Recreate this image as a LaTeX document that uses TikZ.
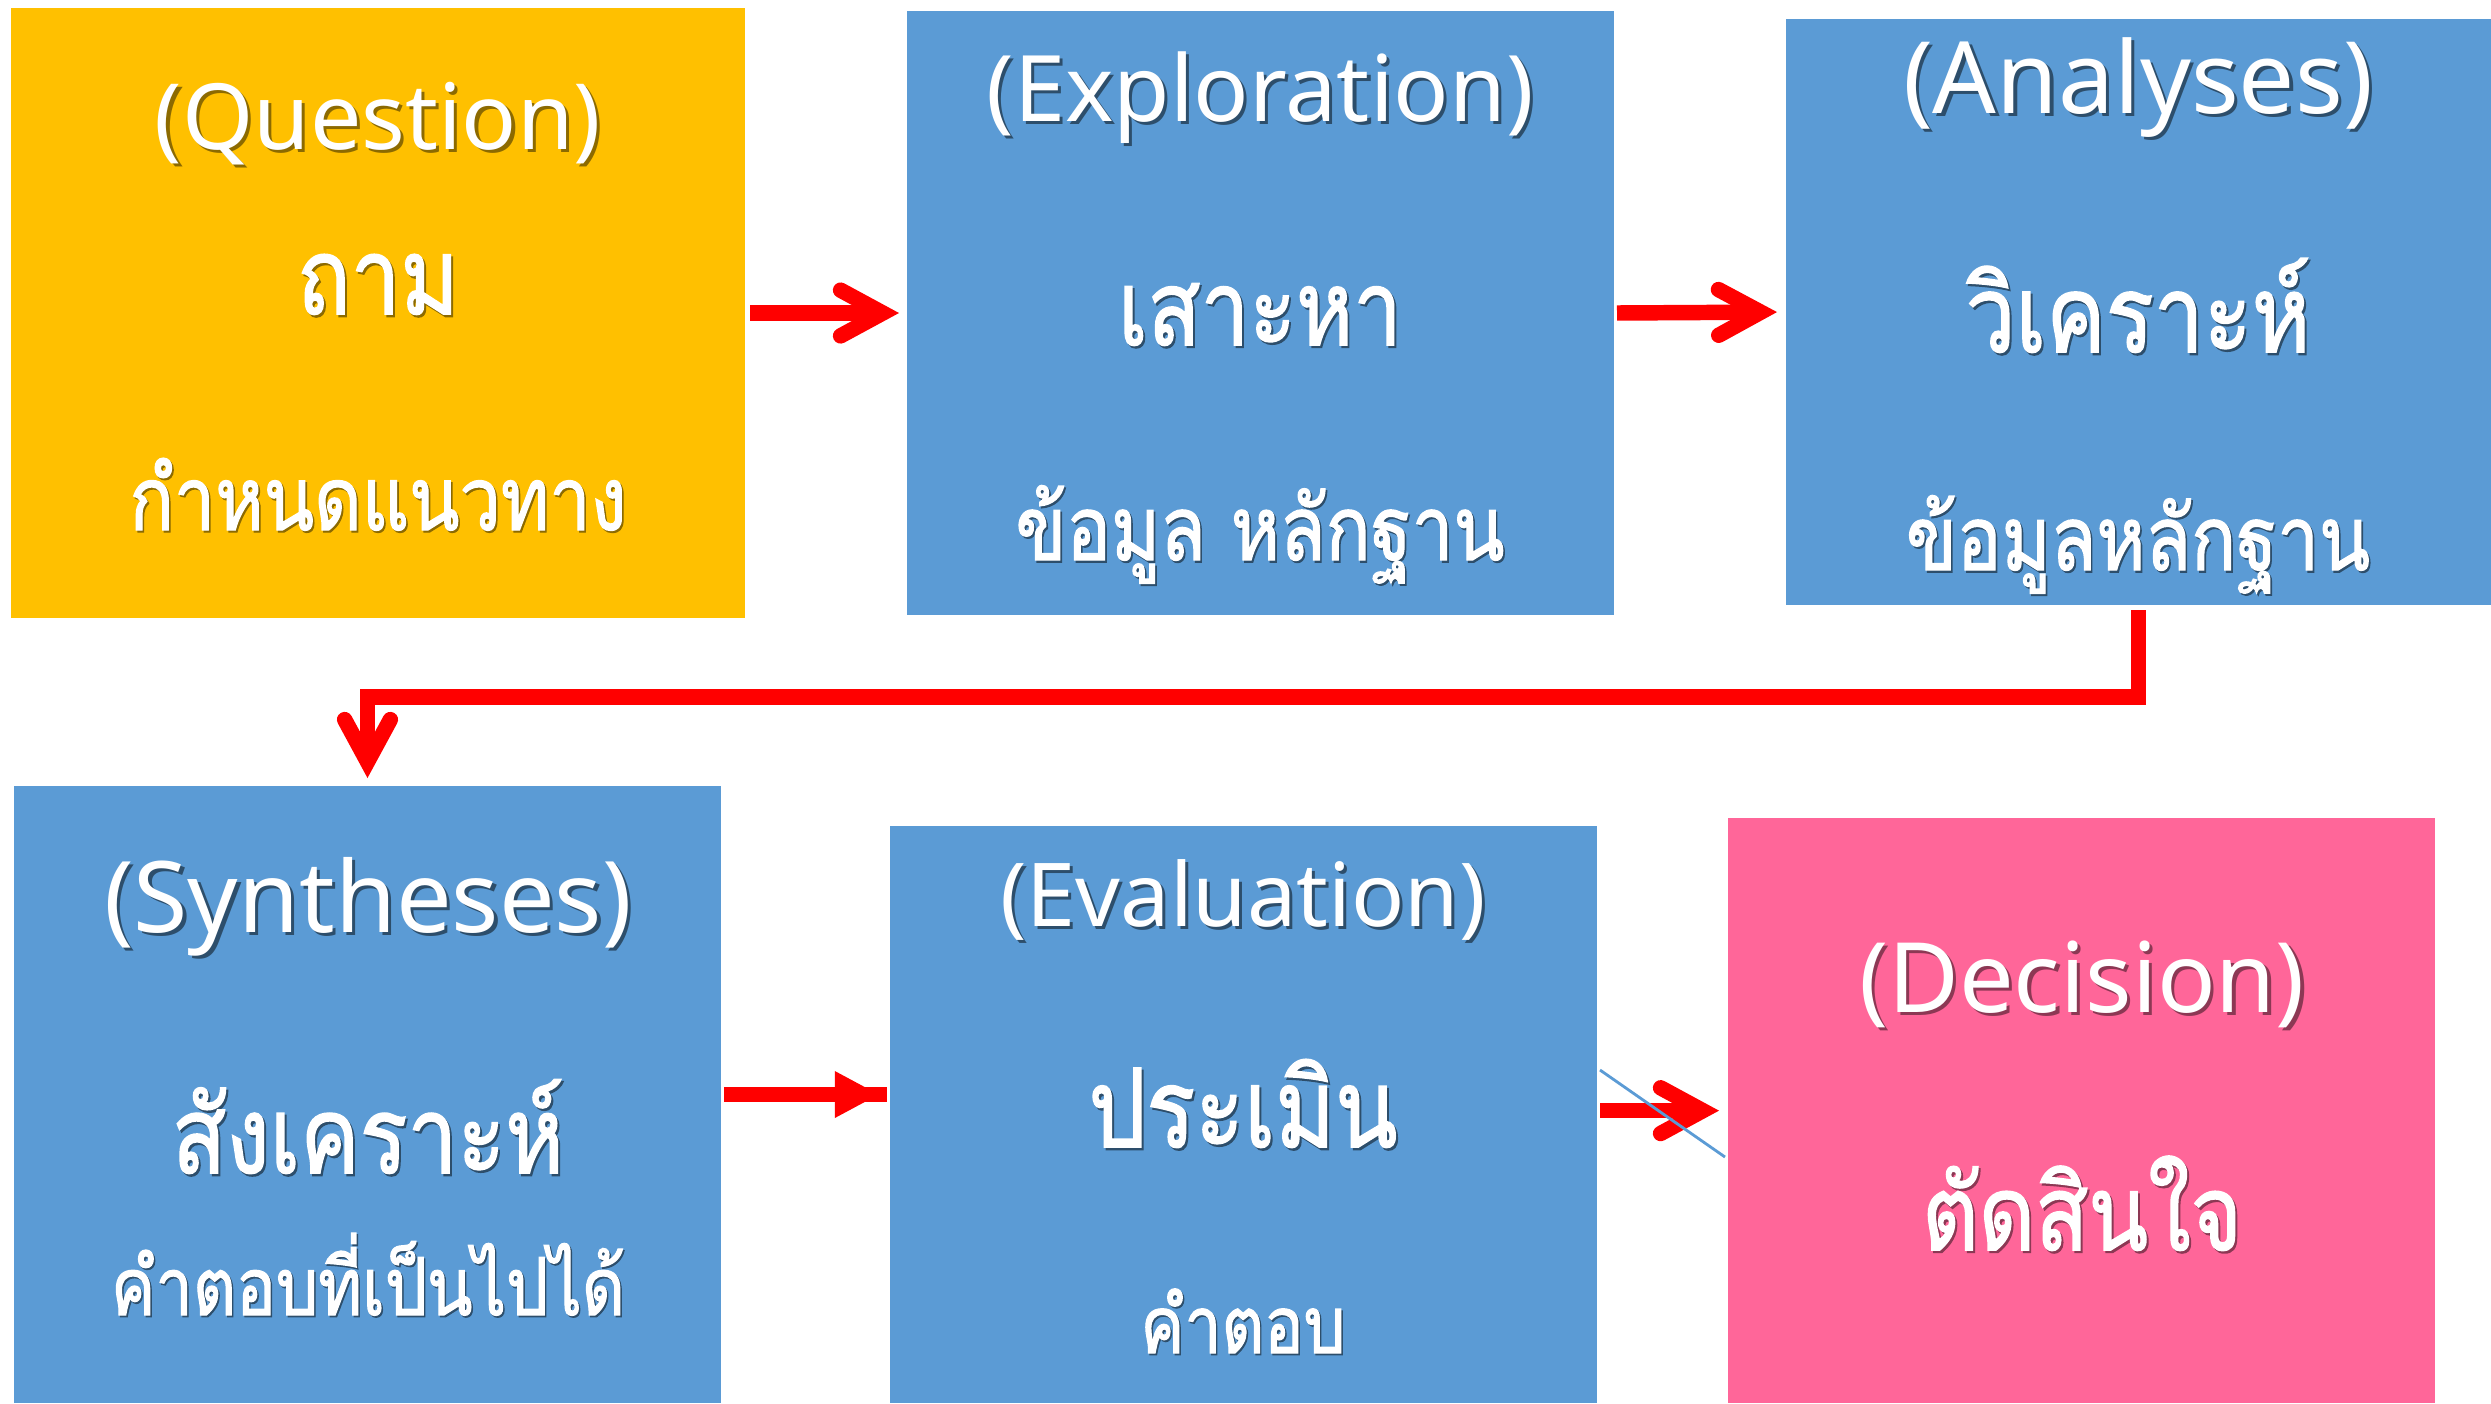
\documentclass[tikz,border=0pt]{standalone}
\usepackage{fontspec}
\setmainfont{Noto Sans}
\newfontfamily\thaifont[Script=Thai,FakeBold=1.6]{Loma}
\usetikzlibrary{arrows.meta,fit,decorations.markings}
\definecolor{qyellow}{HTML}{FFC000}
\definecolor{sblue}{HTML}{5B9BD5}
\definecolor{dpink}{HTML}{FF6699}
\definecolor{ared}{HTML}{FF0000}
\colorlet{shy}{qyellow!55!black}
\colorlet{shb}{sblue!50!black}
\colorlet{shp}{dpink!55!black}
\newcommand\stx[2]{\leavevmode\rlap{\kern0.9pt\raisebox{-0.9pt}{\textcolor{#1}{#2}}}\textcolor{white}{#2}}
\newcommand\fitw[2]{\resizebox{#1mm}{!}{#2}}
\newcommand\fitt[2]{\scalebox{1}[1.2]{\resizebox{#1mm}{!}{#2}}}
\begin{document}
\begin{tikzpicture}[x=0.1mm,y=-0.1mm,
  box/.style={inner sep=0pt, outer sep=0pt, draw=none},
  redln/.style={draw=ared, line width=4.4pt},
  barb/.style={-{Straight Barb[length=12pt,width=13pt,line cap=round,line join=miter]}},
  lat/.style={anchor=base, inner sep=0pt, font=\fontsize{26}{30}\selectfont},
  thai/.style={anchor=base, inner sep=0pt, font=\thaifont\fontsize{40}{44}\selectfont},
]
\useasboundingbox (0,0) rectangle (2491,1403);
% boxes
\node[box, fill=qyellow, fit={(11,8) (745,618)}] (b1) {};
\node[box, fill=sblue, fit={(907,11) (1614,615)}] (b2) {};
\node[box, fill=sblue, fit={(1786,19) (2491,605)}] (b3) {};
\node[box, fill=sblue, fit={(14,786) (721,1403)}] (b4) {};
\node[box, fill=sblue, fit={(890,826) (1597,1403)}] (b5) {};
\node[box, fill=dpink, fit={(1728,818) (2435,1403)}] (b6) {};
% texts box 1
\node[lat] (q1) at (378,149) {\fitw{44.6}{\stx{shy}{(Question)}}};
\node[thai] (q2) at (378,314) {\fitt{16.2}{\stx{shy}{ถาม}}};
\node[thai] (q3) at (378,530) {\fitt{49.7}{\stx{shy}{กำหนดแนวทาง}}};
% box 2
\node[lat] (e1) at (1260,121) {\fitw{54.7}{\stx{shb}{(Exploration)}}};
\node[thai] (e2) at (1260,345) {\fitt{28.4}{\stx{shb}{เสาะหา}}};
\node[thai] (e3) at (1260,560) {\fitt{48.9}{\stx{shb}{ข้อมูล หลักฐาน}}};
% box 3
\node[lat] (a1) at (2138,113) {\fitw{47.0}{\stx{shb}{(Analyses)}}};
\node[thai] (a2) at (2138,352) {\fitt{34.5}{\stx{shb}{วิเคราะห์}}};
\node[thai] (a3) at (2138,570) {\fitt{46.4}{\stx{shb}{ข้อมูลหลักฐาน}}};
% box 4
\node[lat] (s1) at (368,932) {\fitw{52.8}{\stx{shb}{(Syntheses)}}};
\node[thai] (s2) at (368,1173) {\fitt{39.2}{\stx{shb}{สังเคราะห์}}};
\node[thai] (s3) at (368,1315) {\fitt{51.4}{\stx{shb}{คำตอบที่เป็นไปได้}}};
% box 5
\node[lat] (v1) at (1243,926) {\fitw{48.5}{\stx{shb}{(Evaluation)}}};
\node[thai] (v2) at (1243,1147) {\fitt{30.9}{\stx{shb}{ประเมิน}}};
\node[thai] (v3) at (1243,1353) {\fitt{20.5}{\stx{shb}{คำตอบ}}};
% box 6
\node[lat] (d1) at (2082,1012) {\fitw{44.6}{\stx{shp}{(Decision)}}};
\node[thai] (d2) at (2082,1250) {\fitt{32.0}{\stx{shp}{ตัดสินใจ}}};
% connectors
\draw[redln,barb,shorten <=0.5mm,shorten >=0.8mm] (b1.east) -- (b2.west);
\draw[redln,barb,shorten <=0.3mm,shorten >=0.9mm] (b2.east) -- (b3.west);
\draw[redln,barb,shorten <=0.5mm,shorten >=0.8mm] (b3.south) -- ++(0,92) -| (b4.north);
\draw[redln,shorten <=0.3mm,shorten >=0.3mm,postaction={decorate},
  decoration={markings, mark=at position 0.933 with {\arrow{Triangle[length=12.5pt,width=13.4pt,line width=0pt]}}}]
  (b4.east) -- (b4.east -| b5.west);
\draw[redln,barb,shorten <=0.3mm,shorten >=0.9mm] ([yshift=1.1pt]b5.east) -- ([yshift=1.1pt]b5.east -| b6.west);
\coordinate (bl1) at (1600,1070);
\coordinate (bl2) at (1725,1157);
\draw[sblue, line width=0.8pt] (bl1) -- (bl2);
\end{tikzpicture}
\end{document}
